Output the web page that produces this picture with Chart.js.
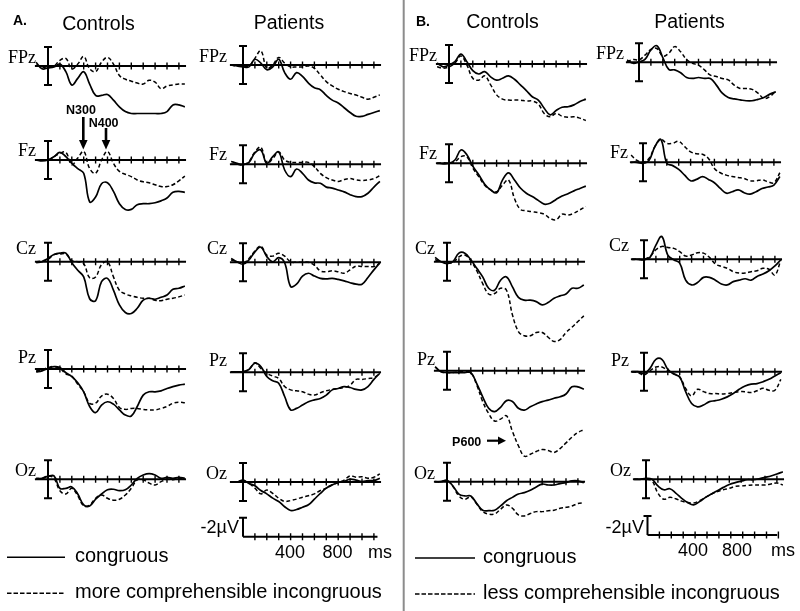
<!DOCTYPE html>
<html>
<head>
<meta charset="utf-8">
<title>ERP waveforms</title>
<script src="https://cdn.jsdelivr.net/npm/chart.js@4.4.0/dist/chart.umd.min.js"></script>
<style>
  body { margin: 0; background: #fff; }
  #fig { position: relative; width: 800px; height: 611px; overflow: hidden; background: #fff;
         font-family: "Liberation Sans", Arial, Helvetica, sans-serif; color: #000; }
  #fig canvas { position: absolute; }
  #fig svg { position: absolute; left: 0; top: 0; }
  .t { position: absolute; white-space: nowrap; line-height: 1; }
  .c { transform: translate(-50%, -50%); }
  .r { transform: translate(-100%, -50%); }
  .l { transform: translateY(-50%); }
  .elec { font-family: "Liberation Serif", "Times New Roman", serif; font-size: 18px; }
  .ttl { font-size: 19.5px; }
  .grp { font-size: 14px; font-weight: bold; }
  .ann { font-size: 12.5px; font-weight: bold; }
  .scl { font-size: 18px; }
  .leg { font-size: 20px; }
</style>
</head>
<body>
<div id="fig"></div>
<script>
'use strict';

/* ============================================================
   ERP GRAND AVERAGES — 4 groups x 5 electrodes
   negative plotted up, solid = congruous, dashed = incongruous
   ============================================================ */

// ── TIME BASE / TICKS ──
const TIMES_MS = [-100, -50, 0, 50, 100, 150, 200, 250, 300, 350, 400, 450, 500,
                  550, 600, 650, 700, 750, 800, 850, 900, 950, 1000, 1050, 1100, 1150];
const TICKS_MS = [100, 200, 300, 400, 500, 600, 700, 800, 900, 1000, 1100];
const ELECTRODES = ['FPz', 'Fz', 'Cz', 'Pz', 'Oz'];

// ── A. CONTROLS (µV) ──
const aCtlFPzCong   = [-0.4, 0.3, 0.2, 0.1, -0.2, 0.6, 2.0, 1.3, 0.6, 1.9, 3.1, 3.1, 3.0, 3.6, 4.3, 4.8, 5.0, 5.0, 5.0, 5.0, 5.0, 5.0, 4.8, 4.1, 4.1, 4.3];
const aCtlFPzIncong = [-0.1, 0.1, 0.1, 0, -0.6, -0.8, 0.3, -0.2, -1.0, 0.3, 0.6, -0.4, -0.9, -0.2, 1.0, 1.4, 1.6, 1.8, 1.9, 1.5, 1.7, 2.4, 2.1, 2.0, 1.9, 1.9];
const aCtlFzCong    = [0, 0.1, 0, -0.35, -0.8, -0.35, 0.35, 0.9, 1.4, 4.4, 3.9, 2.5, 2.4, 3.3, 4.6, 5.2, 5.2, 4.7, 4.6, 4.6, 4.5, 4.3, 4.0, 3.4, 3.3, 3.4];
const aCtlFzIncong  = [0, 0, 0, -0.35, -0.7, -0.8, 0.5, -0.2, -0.9, 0.9, 1.4, 0, -0.9, 0.35, 1.2, 1.5, 1.75, 2.1, 2.3, 2.4, 2.6, 2.8, 2.8, 2.6, 2.2, 1.7];
const aCtlCzCong    = [0.1, 0, -0.35, -0.75, -0.9, -0.9, 0.1, 0.9, 1.6, 3.9, 4.1, 2.1, 1.75, 3.0, 4.55, 5.35, 5.45, 4.9, 4.05, 3.85, 3.95, 3.75, 3.5, 2.9, 2.8, 2.55];
const aCtlCzIncong  = [0, -0.1, -0.25, -0.75, -0.8, -0.8, -0.1, 0, 0.2, 1.7, 1.6, 0.3, 0, 1.6, 3.0, 3.4, 3.6, 3.75, 3.85, 3.85, 4.05, 4.1, 3.95, 3.85, 3.7, 3.5];
const aCtlPzCong    = [0.3, 0.2, -0.05, -0.25, -0.15, 0.4, 0.8, 1.45, 2.4, 3.95, 4.6, 3.8, 3.45, 3.7, 4.3, 4.85, 4.95, 3.95, 2.75, 2.4, 2.4, 2.3, 2.05, 1.85, 1.7, 1.6];
const aCtlPzIncong  = [0.2, 0.1, -0.15, -0.25, -0.05, 0.5, 0.75, 1.6, 2.4, 3.6, 3.6, 2.85, 2.65, 3.1, 4.05, 4.25, 4.15, 4.15, 4.25, 4.3, 4.3, 4.15, 3.95, 3.6, 3.5, 3.55];
const aCtlOzCong    = [-0.1, -0.1, -0.3, -0.35, 0.95, 0.95, 0.8, 1.55, 2.7, 2.8, 2.1, 1.55, 1.1, 1.05, 1.2, 1.1, 0.6, -0.1, -0.45, -0.6, -0.45, -0.1, -0.2, -0.1, -0.2, -0.1];
const aCtlOzIncong  = [0, -0.1, -0.35, -0.1, 1.2, 1.55, 0.95, 1.75, 2.8, 2.7, 2.0, 1.65, 2.0, 2.2, 2.1, 1.65, 0.95, 0.05, 0.05, 0.4, 0.6, 0.25, 0, 0.05, -0.1, 0];

// ── A. PATIENTS ──
const aPatFPzCong   = [0, 0.1, 0.2, 0.2, -0.6, -0.2, 0.5, 0.2, -0.6, 0.8, 1.5, 0.8, 1.2, 1.9, 2.4, 2.6, 3.2, 3.7, 4.0, 4.5, 5.0, 5.4, 5.4, 5.2, 5.0, 4.8];
const aPatFPzIncong = [0, 0.1, 0.1, 0.1, -0.7, -1.5, 0.35, 0, -0.8, -0.2, 0.2, 0.2, 0.2, 0.1, 0.35, 1.05, 1.75, 2.2, 2.55, 2.8, 3.0, 3.15, 3.4, 3.6, 3.4, 3.15];
const aPatFzCong    = [-0.3, -0.1, 0.05, -0.2, -1.2, -1.5, -0.1, -0.8, -1.3, 0.6, 1.3, 0.5, 0.95, 1.65, 1.95, 2.0, 2.4, 2.5, 2.7, 2.9, 3.2, 3.4, 3.4, 3.05, 2.4, 1.8];
const aPatFzIncong  = [0, 0, 0.05, -0.3, -1.3, -1.8, -0.1, -0.6, -1.3, -0.45, -0.2, -0.2, -0.2, -0.2, 0.25, 0.95, 1.4, 1.65, 1.8, 1.6, 1.5, 1.65, 1.7, 1.65, 1.5, 1.2];
const aPatCzCong    = [-0.4, -0.05, 0.2, -0.25, -1.1, -1.6, -0.6, -0.05, -0.5, 0.05, 2.55, 2.3, 1.45, 1.15, 1.45, 1.7, 1.75, 1.7, 1.8, 1.95, 2.15, 2.3, 2.3, 1.6, 0.8, 0.05];
const aPatCzIncong  = [-0.25, -0.05, 0.1, -0.4, -1.2, -1.7, -0.75, -0.65, -0.95, -0.65, -0.05, 0, 0, 0, 0.3, 0.9, 1.0, 0.9, 1.0, 1.15, 0.8, 0.4, 0.45, 0.45, 0.45, 0.1];
const aPatPzCong    = [-0.05, -0.05, -0.05, -0.3, -0.95, -0.6, 0.45, 0.9, 1.15, 2.55, 3.95, 3.8, 3.45, 3.1, 2.9, 2.75, 2.4, 1.85, 1.7, 1.5, 1.6, 1.8, 1.85, 1.5, 0.75, 0.1];
const aPatPzIncong  = [-0.05, -0.05, -0.05, -0.3, -1.0, -0.4, 0.1, 0.4, 0.65, 1.5, 1.85, 1.95, 2.05, 2.3, 2.4, 2.15, 1.95, 1.8, 1.7, 1.6, 1.35, 0.75, 0.75, 0.65, 0.55, 0.1];
const aPatOzCong    = [0, 0, -0.2, 0.15, 0.4, 0.9, 1.25, 1.7, 2.05, 2.6, 3.0, 2.9, 2.65, 2.4, 1.8, 1.2, 0.65, 0.3, 0.05, -0.05, -0.3, -0.2, -0.05, -0.15, -0.15, -0.4];
const aPatOzIncong  = [0, 0, -0.15, 0.15, 0.65, 1.25, 0.85, 1.2, 1.7, 2.05, 1.95, 1.8, 1.6, 1.45, 1.25, 0.9, 0.65, 0.3, 0.05, -0.2, -0.65, -0.5, -0.55, -0.4, -0.5, -0.85];

// ── B. CONTROLS ──
const bCtlFPzCong   = [-0.1, 0.3, 0.1, -0.25, -1.05, -0.25, 0.7, 1.05, 0.8, 1.35, 1.7, 1.5, 1.25, 1.6, 2.2, 2.8, 3.45, 3.8, 4.65, 5.35, 4.9, 4.55, 4.5, 4.3, 3.95, 3.7];
const bCtlFPzIncong = [0.3, 0.45, 0.3, -0.1, -0.85, 0.1, 1.5, 1.7, 1.25, 2.2, 3.25, 3.7, 3.8, 3.8, 3.8, 3.9, 3.9, 4.2, 5.2, 5.55, 5.2, 5.5, 5.6, 5.55, 5.7, 5.95];
const bCtlFzCong    = [0, 0.05, 0, -0.35, -1.4, -0.9, 0.3, 1.2, 2.2, 2.8, 3.1, 1.75, 1.0, 1.75, 2.6, 3.15, 3.5, 3.9, 4.3, 4.2, 3.8, 3.45, 3.2, 2.9, 2.65, 2.4];
const bCtlFzIncong  = [0, -0.05, 0, -0.15, -0.7, -0.7, 0.5, 1.4, 2.3, 2.8, 3.0, 2.3, 1.75, 3.7, 4.85, 5.0, 5.1, 5.2, 5.35, 5.8, 5.95, 5.35, 5.45, 5.25, 4.9, 4.55];
const bCtlCzCong    = [-0.45, 0, 0.2, 0, -0.9, -0.9, -0.2, 0.7, 1.6, 2.8, 3.0, 1.95, 1.6, 2.65, 3.75, 4.05, 4.05, 4.2, 4.55, 4.3, 3.85, 3.6, 3.4, 2.8, 2.8, 2.45];
const bCtlCzIncong  = [-0.2, 0, 0.1, 0.1, -0.5, -0.7, -0.1, 0.95, 2.3, 3.4, 3.35, 2.8, 3.0, 5.6, 7.35, 7.8, 7.8, 7.45, 7.45, 7.95, 8.4, 8.2, 7.45, 6.9, 6.3, 5.7];
const bCtlPzCong    = [-0.4, 0.1, 0.2, 0.2, 0.2, 0.2, 0.2, 1.35, 2.75, 3.95, 4.3, 3.85, 3.15, 3.25, 3.95, 4.15, 3.8, 3.5, 3.25, 3.1, 2.9, 2.75, 2.45, 1.7, 1.7, 1.95];
const bCtlPzIncong  = [-0.4, 0.1, 0.2, 0.2, 0.1, 0.1, 0.2, 1.5, 3.25, 4.5, 5.3, 5.1, 4.75, 6.4, 7.9, 9.0, 8.8, 8.5, 8.3, 8.4, 8.6, 8.2, 7.6, 7.0, 6.5, 6.2];
const bCtlOzCong    = [0, 0, -0.15, 0.45, 1.3, 1.5, 1.5, 2.3, 3.0, 3.05, 3.0, 2.55, 2.0, 1.65, 1.3, 1.15, 0.9, 0.55, 0.25, 0.35, 0.35, 0.2, 0.1, -0.1, -0.1, 0.1];
const bCtlOzIncong  = [0, 0, -0.1, 0.5, 1.5, 1.85, 1.6, 2.35, 3.15, 3.4, 3.4, 2.9, 2.45, 2.8, 3.5, 3.6, 3.35, 3.15, 3.15, 3.05, 3.0, 2.8, 2.7, 2.55, 2.3, 2.2];

// ── B. PATIENTS ──
const bPatFPzCong   = [-0.25, 0.1, -0.05, -0.3, -1.3, -1.75, -0.5, 0.75, 0.8, 1.1, 1.6, 1.7, 1.6, 1.7, 1.7, 2.4, 3.25, 3.7, 3.85, 3.95, 4.05, 4.05, 3.9, 3.7, 3.35, 3.1];
const bPatFPzIncong = [-0.05, -0.3, -0.25, -0.75, -1.35, -1.45, -0.65, -0.95, -1.65, -1.1, -0.3, 0.1, 0.3, 0.8, 1.35, 1.5, 1.7, 1.85, 2.4, 2.75, 2.75, 2.85, 3.25, 3.8, 3.6, 3.0];
const bPatFzCong    = [0, 0, 0.1, -0.2, -1.65, -2.4, 0.1, 0.35, 0.75, 1.35, 1.95, 1.8, 1.5, 1.8, 2.15, 2.75, 3.25, 3.1, 2.9, 3.2, 3.35, 3.1, 2.75, 2.6, 2.4, 1.5];
const bPatFzIncong  = [-0.75, -0.2, 0, -0.4, -1.65, -2.4, -2.0, -2.0, -2.2, -1.65, -1.1, -0.9, -0.85, -0.4, 0.65, 1.1, 1.35, 1.5, 1.6, 1.7, 1.95, 1.95, 1.85, 2.05, 2.15, 1.1];
const bPatCzCong    = [0, 0, 0.05, -0.2, -1.5, -2.4, -0.45, 0.05, 0.4, 2.2, 2.7, 2.45, 1.9, 1.9, 2.2, 2.6, 2.7, 2.35, 2.2, 2.05, 2.2, 1.8, 1.55, 1.2, 0.7, 0.05];
const bPatCzIncong  = [0, 0, 0, -0.3, -1.0, -1.35, -1.25, -1.15, -0.8, -0.35, -0.45, -0.7, -0.65, -0.2, 0.5, 0.75, 0.95, 1.3, 1.45, 1.45, 1.3, 1.2, 0.95, 1.05, 1.65, 0.05];
const bPatPzCong    = [0, 0, 0.2, -0.35, -1.3, -1.3, -0.25, 0.25, 0.55, 2.1, 3.35, 3.7, 3.5, 3.15, 3.05, 2.9, 2.65, 2.3, 1.85, 1.5, 1.3, 1.25, 1.05, 0.8, 0.45, 0.1];
const bPatPzIncong  = [0, 0.1, 0.35, -0.1, -0.5, -0.5, -0.1, 0.2, 0.55, 1.75, 2.55, 1.85, 2.1, 2.3, 2.3, 2.35, 2.3, 2.2, 2.1, 2.1, 2.2, 2.0, 1.75, 1.95, 1.95, 0.8];
const bPatOzCong    = [0, 0, -0.1, 0, 0.7, 1.1, 1.0, 1.45, 2.0, 2.45, 2.7, 2.35, 1.9, 1.55, 1.2, 0.85, 0.55, 0.35, 0.2, 0.05, 0.05, -0.05, -0.2, -0.35, -0.55, -0.8];
const bPatOzIncong  = [0, 0, 0, 0.15, 1.45, 2.1, 1.9, 2.05, 2.3, 2.45, 2.5, 2.25, 1.9, 1.55, 1.3, 1.1, 0.95, 0.75, 0.7, 0.65, 0.6, 0.6, 0.6, 0.5, 0.4, 0.6];

// ── PANEL TABLE (column order: A ctl, A pat, B ctl, B pat; rows = ELECTRODES) ──
const SERIES = [
  [[aCtlFPzCong, aCtlFPzIncong], [aCtlFzCong, aCtlFzIncong], [aCtlCzCong, aCtlCzIncong], [aCtlPzCong, aCtlPzIncong], [aCtlOzCong, aCtlOzIncong]],
  [[aPatFPzCong, aPatFPzIncong], [aPatFzCong, aPatFzIncong], [aPatCzCong, aPatCzIncong], [aPatPzCong, aPatPzIncong], [aPatOzCong, aPatOzIncong]],
  [[bCtlFPzCong, bCtlFPzIncong], [bCtlFzCong, bCtlFzIncong], [bCtlCzCong, bCtlCzIncong], [bCtlPzCong, bCtlPzIncong], [bCtlOzCong, bCtlOzIncong]],
  [[bPatFPzCong, bPatFPzIncong], [bPatFzCong, bPatFzIncong], [bPatCzCong, bPatCzIncong], [bPatPzCong, bPatPzIncong], [bPatOzCong, bPatOzIncong]],
];

// ── LAYOUT (page pixels) ──
const PX_PER_MS = 0.119;
const PX_PER_UV = 9.5;
const BAR_UV = 2;
const ORIGIN_X = [[48, 48, 48, 48, 48], [243, 243, 243, 243, 243], [449, 449, 447, 447, 447], [639, 643, 644, 644, 646]];
const BASE_Y = [[66, 160, 261.7, 369, 479.3], [65, 164.3, 262.3, 372.3, 482], [64, 163.3, 261.7, 370.7, 481.7], [62.3, 162.3, 259.3, 371.7, 479.3]];
const LABEL_GAP = [12, 16, 12, 15];
const LABEL_DY = [-9, -10, -14, -12, -9];
const CANVAS_W = 165, CANVAS_H = 145;

const fig = document.getElementById('fig');

// ── AXIS / SCALE-BAR PLUGIN ──
const erpFrame = {
  id: 'erpFrame',
  beforeDatasetsDraw(chart, args, opts) {
    const { ctx, scales: { x, y } } = chart;
    const y0 = y.getPixelForValue(0);
    const bx = x.getPixelForValue(0);
    ctx.save();
    ctx.strokeStyle = '#000';
    ctx.lineCap = 'butt';

    // baseline
    ctx.lineWidth = 2;
    ctx.beginPath();
    ctx.moveTo(x.getPixelForValue(opts.from), y0);
    ctx.lineTo(x.getPixelForValue(opts.to), y0);
    ctx.stroke();

    // 100 ms ticks
    ctx.lineWidth = 1.4;
    ctx.beginPath();
    TICKS_MS.forEach(t => {
      const px = x.getPixelForValue(t);
      ctx.moveTo(px, y0 - 3.5);
      ctx.lineTo(px, y0 + 3.5);
    });
    ctx.stroke();

    // ±2 µV calibration bar
    const yTop = y.getPixelForValue(-BAR_UV);
    const yBot = opts.scaleOnly ? y0 : y.getPixelForValue(BAR_UV);
    ctx.lineWidth = 2;
    ctx.beginPath();
    ctx.moveTo(bx, yTop); ctx.lineTo(bx, yBot);
    ctx.moveTo(bx - 4, yTop); ctx.lineTo(bx + 4, yTop);
    if (!opts.scaleOnly) { ctx.moveTo(bx - 4, yBot); ctx.lineTo(bx + 4, yBot); }
    ctx.stroke();
    ctx.restore();
  }
};

// ── CREATE ONE PANEL CHART ──
const makePanel = (originX, baseY, seriesPair, frameOpts) => {
  const left = Math.floor(originX - 20);
  const top = Math.floor(baseY - 42);
  const cv = document.createElement('canvas');
  cv.width = CANVAS_W;
  cv.height = CANVAS_H;
  cv.style.left = left + 'px';
  cv.style.top = top + 'px';
  cv.style.width = CANVAS_W + 'px';
  cv.style.height = CANVAS_H + 'px';
  fig.appendChild(cv);

  const xMin = (left - originX) / PX_PER_MS;
  const yMin = (top - baseY) / PX_PER_UV;

  const datasets = seriesPair.map((vals, k) => ({
    data: TIMES_MS.map((t, i) => ({ x: t, y: vals[i] })),
    borderColor: '#000',
    borderWidth: k === 0 ? 1.7 : 1.5,
    borderDash: k === 0 ? [] : [4, 2.5],
    tension: 0.4,
    fill: false,
    pointRadius: 0,
  }));

  return new Chart(cv.getContext('2d'), {
    type: 'line',
    data: { datasets },
    options: {
      responsive: false,
      animation: false,
      devicePixelRatio: 1,
      events: [],
      layout: { padding: 0 },
      plugins: { legend: { display: false }, tooltip: { enabled: false }, erpFrame: frameOpts },
      scales: {
        x: { type: 'linear', display: false, min: xMin, max: xMin + CANVAS_W / PX_PER_MS },
        y: { type: 'linear', display: false, reverse: true, min: yMin, max: yMin + CANVAS_H / PX_PER_UV },
      },
    },
    plugins: [erpFrame],
  });
};

// ── TEXT HELPER ──
const addText = (str, x, y, cls) => {
  const d = document.createElement('div');
  d.className = 't ' + cls;
  d.textContent = str;
  d.style.left = x + 'px';
  d.style.top = y + 'px';
  fig.appendChild(d);
};

// ── OVERLAY: separator, arrows, legend strokes ──
fig.insertAdjacentHTML('beforeend', `
<svg width="800" height="611" viewBox="0 0 800 611">
  <line x1="403.7" y1="0" x2="403.7" y2="611" stroke="#8c8c8c" stroke-width="2"/>
  <line x1="83.3" y1="117" x2="83.3" y2="141" stroke="#000" stroke-width="2.6"/>
  <polygon points="79,140 87.6,140 83.3,149.5" fill="#000"/>
  <line x1="106" y1="128" x2="106" y2="141" stroke="#000" stroke-width="2.6"/>
  <polygon points="101.7,140 110.3,140 106,149.5" fill="#000"/>
  <line x1="487" y1="440.7" x2="499" y2="440.7" stroke="#000" stroke-width="2.2"/>
  <polygon points="498,436.6 498,444.8 506,440.7" fill="#000"/>
  <line x1="7" y1="557.3" x2="65" y2="557.3" stroke="#000" stroke-width="1.5"/>
  <line x1="7" y1="593.3" x2="65" y2="593.3" stroke="#000" stroke-width="1.5" stroke-dasharray="4.5 2"/>
  <line x1="415" y1="558" x2="475" y2="558" stroke="#000" stroke-width="1.5"/>
  <line x1="415" y1="594" x2="475" y2="594" stroke="#000" stroke-width="1.5" stroke-dasharray="4.5 2"/>
</svg>`);

// ── BUILD ALL PANELS ──
SERIES.forEach((column, c) => {
  column.forEach((pair, r) => {
    const ox = ORIGIN_X[c][r];
    const by = BASE_Y[c][r];
    makePanel(ox, by, pair, { from: -110, to: 1160, scaleOnly: false });
    addText(ELECTRODES[r], ox - LABEL_GAP[c], by + LABEL_DY[r], 'elec r');
  });
});

// calibration bars under the patient columns
makePanel(243, 536.7, [], { from: 0, to: 1130, scaleOnly: true });
makePanel(647.5, 535, [], { from: 0, to: 1090, scaleOnly: true });

// ── TITLES ──
addText('A.', 13, 19.5, 'grp l');
addText('Controls', 98.5, 23.5, 'ttl c');
addText('Patients', 289, 22.5, 'ttl c');
addText('B.', 416, 21, 'grp l');
addText('Controls', 502.5, 21.5, 'ttl c');
addText('Patients', 689.5, 21.5, 'ttl c');

// ── COMPONENT LABELS ──
addText('N300', 81, 110, 'ann c');
addText('N400', 103.6, 123, 'ann c');
addText('P600', 466.7, 441.5, 'ann c');

// ── CALIBRATION LABELS ──
addText('-2\u00b5V', 239, 527, 'scl r');
addText('400', 290, 552, 'scl c');
addText('800', 337.5, 552, 'scl c');
addText('ms', 380, 552, 'scl c');
addText('-2\u00b5V', 644, 527, 'scl r');
addText('400', 693, 550, 'scl c');
addText('800', 737, 550, 'scl c');
addText('ms', 783, 550, 'scl c');

// ── LEGENDS ──
addText('congruous', 75, 555, 'leg l');
addText('more comprehensible incongruous', 75, 591.3, 'leg l');
addText('congruous', 483, 555.5, 'leg l');
addText('less comprehensible incongruous', 483, 592, 'leg l');
</script>
</body>
</html>
